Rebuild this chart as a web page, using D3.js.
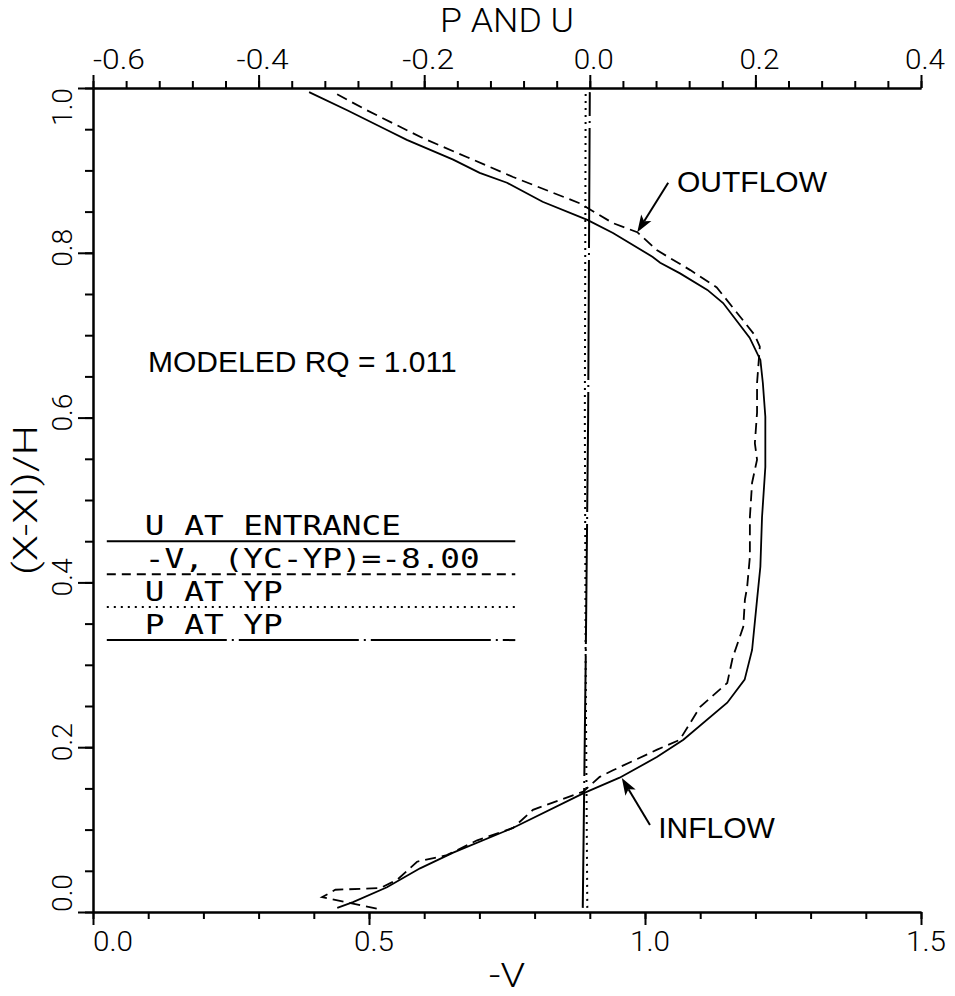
<!DOCTYPE html>
<html lang="en">
<head>
<meta charset="UTF-8">
<title>P and U profile</title>
<script src="https://d3js.org/d3.v7.min.js"></script>
<style>
    body { margin: 0; background: #fff; }
    svg { display: block; }
    .hershey { font-family: "DejaVu Sans Mono", monospace; fill: #000; }
    .thin { font-family: Roboto, "DejaVu Sans", sans-serif; font-weight: 300; fill: #000; }
    .note { font-family: "Liberation Sans", Arial, sans-serif; fill: #000; }
    .axis path, .axis line { stroke: #000; stroke-width: 2; }
</style>
</head>
<body>
<div id="chart"></div>
<script>
// U at entrance (top axis, P and U) vs (X-XI)/H
var uEntranceY = [0.005, 0.012, 0.030, 0.053, 0.072, 0.102, 0.144, 0.163, 0.188, 0.209, 0.254, 0.282, 0.318,
                  0.379, 0.419, 0.479, 0.540, 0.601, 0.642, 0.670, 0.697, 0.739, 0.755, 0.775, 0.788, 0.795,
                  0.824, 0.840, 0.862, 0.885, 0.897, 0.913, 0.937, 0.949, 0.973, 0.995];
var uEntrance = [-0.305, -0.286, -0.245, -0.205, -0.165, -0.093, -0.008, 0.036, 0.081, 0.113, 0.166, 0.187, 0.196,
                 0.202, 0.206, 0.208, 0.212, 0.212, 0.209, 0.206, 0.193, 0.161, 0.142, 0.109, 0.085, 0.076,
                 0.028, -0.003, -0.057, -0.100, -0.133, -0.165, -0.221, -0.245, -0.293, -0.339];

// -V at (YC-YP) = -8.00 (bottom axis)
var negVY = [0.004, 0.018, 0.027, 0.029, 0.039, 0.061, 0.069, 0.087, 0.102, 0.124, 0.146, 0.164, 0.172, 0.197,
             0.209, 0.249, 0.278, 0.309, 0.346, 0.379, 0.394, 0.431, 0.479, 0.521, 0.549, 0.569, 0.606, 0.642,
             0.686, 0.700, 0.758, 0.779, 0.803, 0.825, 0.836, 0.860, 0.892, 0.916, 0.939, 0.973, 0.995];
var negV = [0.514, 0.415, 0.439, 0.520, 0.551, 0.587, 0.641, 0.696, 0.761, 0.797, 0.888, 0.918, 0.942, 1.022,
            1.063, 1.100, 1.149, 1.159, 1.178, 1.181, 1.185, 1.190, 1.190, 1.194, 1.203, 1.199, 1.203, 1.203,
            1.208, 1.199, 1.130, 1.082, 1.022, 0.986, 0.942, 0.882, 0.761, 0.678, 0.598, 0.496, 0.435];

// U and P at YP (top axis)
var atYpY = [0.005, 0.3, 0.6, 0.995];
var uAtYp = [-0.003, -0.005, -0.006, -0.005];
var pAtYp = [-0.0085, -0.005, -0.002, 0.0];

var bottomTicks = [0.0, 0.5, 1.0, 1.5];
var topTicks = [-0.6, -0.4, -0.2, 0.0, 0.2, 0.4];
var leftTicks = [0.0, 0.2, 0.4, 0.6, 0.8, 1.0];

var legendLabels = ["U AT ENTRANCE", "-V, (YC-YP)=-8.00", "U AT YP", "P AT YP"];
var legendRowY = [0.45, 0.41, 0.37, 0.33];
var legendDash = [null, "9,6", "2,5", "120,5,2,5"];

var noteText = ["MODELED RQ = 1.011", "OUTFLOW", "INFLOW"];
var noteV = [0.0996, 1.058, 1.024];
var noteY = [0.655, 0.874, 0.0898];
var arrowFrom = [[1.042, 0.885], [1.009, 0.1056]];
var arrowTo = [[0.986, 0.825], [0.958, 0.1626]];

var width = 955, height = 996;
var svg = d3.select("#chart").append("svg")
    .attr("width", width)
    .attr("height", height);

var x = d3.scaleLinear().domain([0, 1.5]).range([93, 921]);
var xTop = d3.scaleLinear().domain([-0.6, 0.4]).range([93, 921]);
var y = d3.scaleLinear().domain([0, 1]).range([912, 88]);

function fmt(v) { return v.toFixed(1); }

// axes: minor and major ticks
svg.append("g").attr("class", "axis")
    .attr("transform", "translate(0,912)")
    .call(d3.axisBottom(x).tickValues(d3.range(0, 16).map(function(i) { return i * 0.1; }))
        .tickSize(7).tickSizeOuter(0).tickFormat(""));
svg.append("g").attr("class", "axis")
    .attr("transform", "translate(0,912)")
    .call(d3.axisBottom(x).tickValues(bottomTicks).tickSize(13).tickSizeOuter(0).tickFormat(""));

svg.append("g").attr("class", "axis")
    .attr("transform", "translate(0,88)")
    .call(d3.axisTop(xTop).tickValues(d3.range(0, 26).map(function(i) { return -0.6 + i * 0.04; }))
        .tickSize(7).tickSizeOuter(0).tickFormat(""));
svg.append("g").attr("class", "axis")
    .attr("transform", "translate(0,88)")
    .call(d3.axisTop(xTop).tickValues(topTicks).tickSize(13).tickSizeOuter(0).tickFormat(""));

svg.append("g").attr("class", "axis")
    .attr("transform", "translate(93,0)")
    .call(d3.axisLeft(y).tickValues(d3.range(0, 21).map(function(i) { return i * 0.05; }))
        .tickSize(8).tickSizeOuter(0).tickFormat(""));
svg.append("g").attr("class", "axis")
    .attr("transform", "translate(93,0)")
    .call(d3.axisLeft(y).tickValues(leftTicks).tickSize(15).tickSizeOuter(0).tickFormat(""));

// tick labels
svg.selectAll(".bl").data(bottomTicks).enter().append("text")
    .attr("class", "thin")
    .attr("x", function(d, i) { return i === 0 ? x(d) : x(d) + 5; })
    .attr("y", 951)
    .attr("text-anchor", function(d, i) { return i === 0 ? "start" : "middle"; })
    .attr("font-size", 27)
    .attr("textLength", 40).attr("lengthAdjust", "spacingAndGlyphs")
    .text(fmt);

svg.selectAll(".tl").data(topTicks).enter().append("text")
    .attr("class", "thin")
    .attr("x", function(d, i) { return i === 0 ? xTop(d) : xTop(d) + 4; })
    .attr("y", 69)
    .attr("text-anchor", function(d, i) { return i === 0 ? "start" : "middle"; })
    .attr("font-size", 28)
    .attr("textLength", function(d) { return d < 0 ? 52 : 40; })
    .attr("lengthAdjust", "spacingAndGlyphs")
    .text(fmt);

svg.selectAll(".ll").data(leftTicks).enter().append("text")
    .attr("class", "thin")
    .attr("transform", function(d, i) {
        var yy = (i === 0 || i === leftTicks.length - 1) ? y(d) : y(d) - 5;
        return "translate(72," + yy + ") rotate(-90)";
    })
    .attr("text-anchor", function(d, i) { return i === 0 ? "start" : (i === leftTicks.length - 1 ? "end" : "middle"); })
    .attr("font-size", 28)
    .attr("textLength", 38).attr("lengthAdjust", "spacingAndGlyphs")
    .text(fmt);

// axis titles
svg.append("text").attr("class", "thin")
    .attr("x", 507).attr("y", 32).attr("text-anchor", "middle")
    .attr("font-size", 33).attr("textLength", 134).attr("lengthAdjust", "spacingAndGlyphs")
    .text("P AND U");
svg.append("text").attr("class", "thin")
    .attr("x", 507).attr("y", 987).attr("text-anchor", "middle")
    .attr("font-size", 33).attr("textLength", 36).attr("lengthAdjust", "spacingAndGlyphs")
    .text("-V");
svg.append("text").attr("class", "thin")
    .attr("transform", "translate(37,500) rotate(-90)").attr("text-anchor", "middle")
    .attr("font-size", 33).attr("textLength", 150).attr("lengthAdjust", "spacingAndGlyphs")
    .text("(X-XI)/H");

// curves
var topLine = d3.line()
    .x(function(d) { return xTop(d[0]); })
    .y(function(d) { return y(d[1]); });
var bottomLine = d3.line()
    .x(function(d) { return x(d[0]); })
    .y(function(d) { return y(d[1]); });

function pairs(a, b) { return a.map(function(v, i) { return [v, b[i]]; }); }

svg.append("path").datum(pairs(pAtYp, atYpY))
    .attr("d", topLine).attr("fill", "none").attr("stroke", "#000")
    .attr("stroke-width", 2).attr("stroke-dasharray", legendDash[3]);
svg.append("path").datum(pairs(uAtYp, atYpY))
    .attr("d", topLine).attr("fill", "none").attr("stroke", "#000")
    .attr("stroke-width", 2).attr("stroke-dasharray", legendDash[2]);
svg.append("path").datum(pairs(uEntrance, uEntranceY))
    .attr("d", topLine).attr("fill", "none").attr("stroke", "#000")
    .attr("stroke-width", 1.8);
svg.append("path").datum(pairs(negV, negVY))
    .attr("d", bottomLine).attr("fill", "none").attr("stroke", "#000")
    .attr("stroke-width", 1.8).attr("stroke-dasharray", "11,6");

// legend
var legend = svg.append("g");
legendLabels.forEach(function(lab, i) {
    legend.append("line")
        .attr("x1", x(0.025)).attr("x2", x(0.765))
        .attr("y1", y(legendRowY[i])).attr("y2", y(legendRowY[i]))
        .attr("stroke", "#000").attr("stroke-width", 2)
        .attr("stroke-dasharray", legendDash[i]);
    legend.append("text").attr("class", "hershey")
        .attr("x", x(0.094)).attr("y", y(legendRowY[i]) - 6)
        .attr("font-size", 26)
        .attr("textLength", lab.length * 19.7).attr("lengthAdjust", "spacingAndGlyphs")
        .text(lab);
});

// annotations
noteText.forEach(function(t, i) {
    svg.append("text").attr("class", "note")
        .attr("x", x(noteV[i])).attr("y", y(noteY[i]))
        .attr("font-size", 30)
        .text(t);
});

arrowFrom.forEach(function(f, i) {
    var x1 = x(f[0]), y1 = y(f[1]), x2 = x(arrowTo[i][0]), y2 = y(arrowTo[i][1]);
    var dx = x2 - x1, dy = y2 - y1, len = Math.sqrt(dx * dx + dy * dy);
    var ux = dx / len, uy = dy / len;
    var bx = x2 - ux * 17, by = y2 - uy * 17;
    svg.append("line")
        .attr("x1", x1).attr("y1", y1).attr("x2", bx + ux * 4).attr("y2", by + uy * 4)
        .attr("stroke", "#000").attr("stroke-width", 2);
    svg.append("path")
        .attr("d", "M" + x2 + "," + y2 +
            "L" + (bx - uy * 6) + "," + (by + ux * 6) +
            "L" + (bx + ux * 4) + "," + (by + uy * 4) +
            "L" + (bx + uy * 6) + "," + (by - ux * 6) + "Z")
        .attr("fill", "#000");
});
</script>
</body>
</html>
